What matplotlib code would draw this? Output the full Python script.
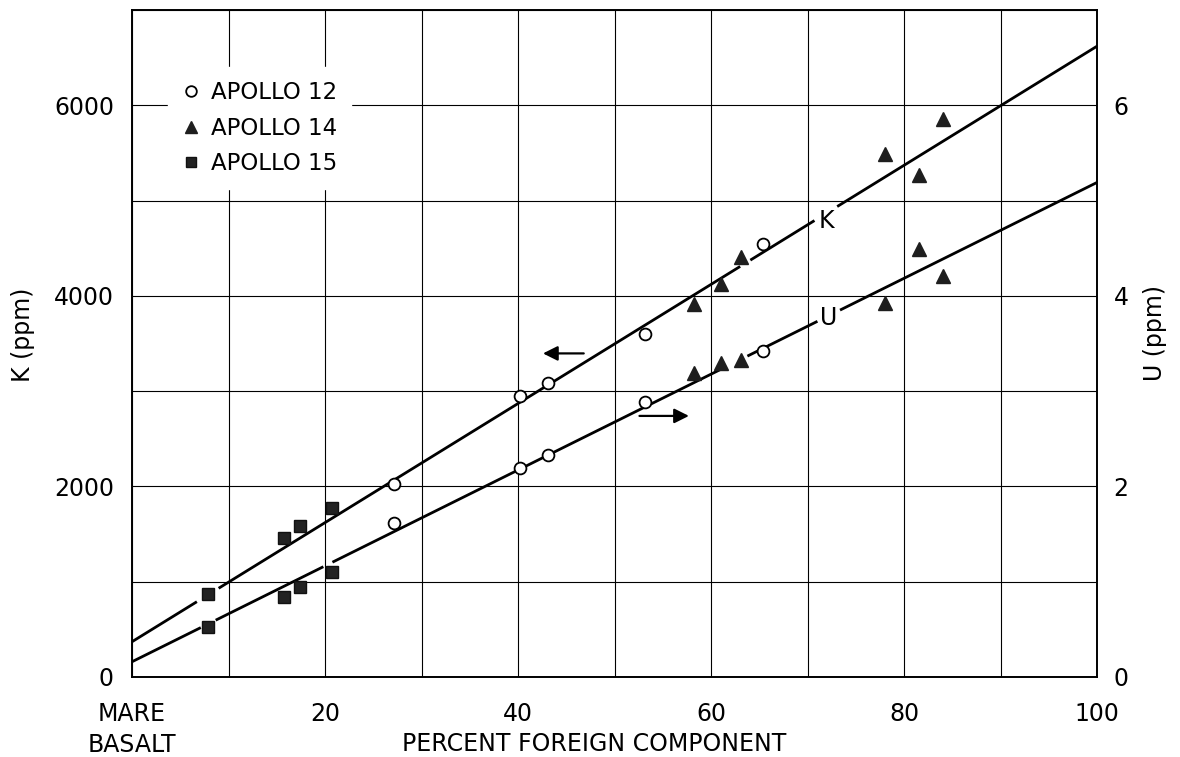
import matplotlib.pyplot as plt
import numpy as np

# sample values (x = percent foreign component)
a12_x = [27.2, 40.2, 43.1, 53.2, 65.4]
a12_k = [2021, 2953, 3082, 3599, 4545]
a12_u = [1.62, 2.19, 2.33, 2.89, 3.42]

a14_x = [58.2, 61.0, 63.1, 78.0, 81.6, 84.0]
a14_k = [3913, 4122, 4408, 5484, 5267, 5861]
a14_u = [3.19, 3.30, 3.33, 3.92, 4.49, 4.21]

a15_x = [7.9, 15.7, 17.4, 20.7]
a15_k = [866, 1459, 1584, 1777]
a15_u = [0.52, 0.84, 0.94, 1.10]

# fitted lines: (intercept, slope) and x-ranges where the drawn line is broken
k_fit = (370.0, 62.5)
u_fit = (0.16, 0.0503)
k_gaps = [(6.6, 9.1), (62.9, 64.2), (70.6, 73.2)]
u_gaps = [(7.0, 8.8), (19.7, 20.9), (60.9, 63.9), (70.9, 73.5)]

x_ticks = [0, 10, 20, 30, 40, 50, 60, 70, 80, 90, 100]
x_labels = ['MARE\nBASALT', '', '20', '', '40', '', '60', '', '80', '', '100']
k_ticks = [0, 1000, 2000, 3000, 4000, 5000, 6000, 7000]
k_labels = ['0', '', '2000', '', '4000', '', '6000', '']
u_ticks = [0, 2, 4, 6]
u_labels = ['0', '2', '4', '6']

FS = 17


def segments(gaps, lo=0.0, hi=100.0):
    pts = [lo]
    for a, b in gaps:
        pts += [a, b]
    pts.append(hi)
    return [(pts[i], pts[i + 1]) for i in range(0, len(pts), 2)]


fig = plt.figure(figsize=(11.8, 7.57), dpi=100)
ax = fig.add_axes([132 / 1180, 80 / 757, 965 / 1180, 667 / 757])
ax2 = ax.twinx()

ax.set_xlim(0, 100)
ax.set_ylim(0, 7000)
ax2.set_ylim(0, 7)

ax.set_xticks(x_ticks)
ax.set_xticklabels(x_labels, fontsize=FS)
for lab in ax.get_xticklabels():
    lab.set_linespacing(1.35)
ax.set_yticks(k_ticks)
ax.set_yticklabels(k_labels, fontsize=FS)
ax2.set_yticks(u_ticks)
ax2.set_yticklabels(u_labels, fontsize=FS)
ax.tick_params(axis='x', length=0, pad=18)
ax.tick_params(axis='y', length=0, pad=13)
ax2.tick_params(axis='y', length=0, pad=12)
ax.grid(True, color='black', lw=0.8)
ax.set_axisbelow(True)

for a in (ax, ax2):
    for s in a.spines.values():
        s.set_linewidth(1.2)

ax.set_xlabel('PERCENT FOREIGN COMPONENT', fontsize=FS)
ax.xaxis.set_label_coords(0.479, -0.083)
ax.set_ylabel('K (ppm)', fontsize=FS, va='center')
ax.yaxis.set_label_coords(-0.113, 0.513)
ax2.set_ylabel('U (ppm)', fontsize=FS, va='center', rotation=90)
ax2.yaxis.set_label_coords(1.060, 0.516)

# fit lines with breaks
for x0, x1 in segments(k_gaps):
    xs = np.array([x0, x1])
    ax.plot(xs, k_fit[0] + k_fit[1] * xs, color='black', lw=2.0, zorder=3)
for x0, x1 in segments(u_gaps):
    xs = np.array([x0, x1])
    ax2.plot(xs, u_fit[0] + u_fit[1] * xs, color='black', lw=2.0, zorder=3)

ax.text(72.0, 4790, 'K', fontsize=FS, ha='center', va='center')
ax2.text(72.2, 3.77, 'U', fontsize=FS, ha='center', va='center')

# arrows showing which axis each line belongs to
ax.annotate('', xy=(42.3, 3396), xytext=(47.1, 3396),
            arrowprops=dict(arrowstyle='-|>', color='black', lw=1.6, mutation_scale=22))
ax2.annotate('', xy=(58.0, 2.74), xytext=(52.3, 2.74),
             arrowprops=dict(arrowstyle='-|>', color='black', lw=1.6, mutation_scale=22))

circ = dict(marker='o', ls='none', ms=8.5, mfc='white', mec='black', mew=1.3, zorder=5)
tri = dict(marker='^', ls='none', ms=9.5, mfc='#1e1e1e', mec='#1e1e1e', zorder=5)
sq = dict(marker='s', ls='none', ms=8.5, mfc='#222222', mec='#111111', zorder=5)

h12, = ax.plot(a12_x, a12_k, **circ)
ax2.plot(a12_x, a12_u, **circ)
h14, = ax.plot(a14_x, a14_k, **tri)
ax2.plot(a14_x, a14_u, **tri)
h15, = ax.plot(a15_x, a15_k, **sq)
ax2.plot(a15_x, a15_u, **sq)

leg = ax2.legend([h12, h14, h15], ['APOLLO 12', 'APOLLO 14', 'APOLLO 15'],
                 loc='upper left', bbox_to_anchor=(0.025, 0.931), fontsize=16.5,
                 frameon=True, framealpha=1, edgecolor='white', fancybox=False,
                 handlelength=0.8, handletextpad=0.5, labelspacing=0.55,
                 borderpad=0.6, markerscale=0.9)

fig.savefig('out.png', dpi=100)
